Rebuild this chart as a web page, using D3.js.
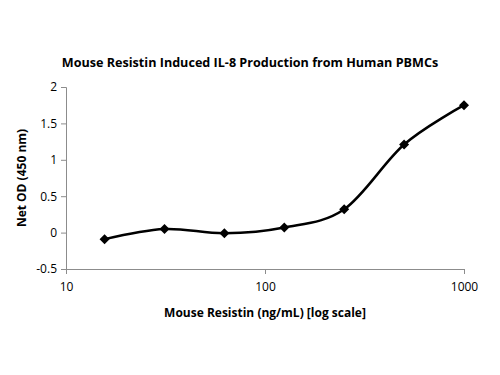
<!DOCTYPE html>
<html>
<head>
<meta charset="utf-8">
<script src="https://cdn.jsdelivr.net/npm/d3@7"></script>
<style>
  body { margin: 0; background: #fff; }
  text { font-family: "Open Sans", "Liberation Sans", sans-serif; fill: #000; }
</style>
</head>
<body>
<div id="chart"></div>
<script>
var concentrations = [15.625, 31.25, 62.5, 125, 250, 500, 1000]
var netOD = [-0.09, 0.05, -0.01, 0.07, 0.32, 1.21, 1.75]
var xTicks = [10, 100, 1000]
var yTicks = [-0.5, 0, 0.5, 1, 1.5, 2]

var margin = {top: 87, right: 36, bottom: 106, left: 66}
var width = 500 - margin.left - margin.right,
    height = 375 - margin.top - margin.bottom

var svg = d3.select('#chart').append('svg')
  .attr('width', 500)
  .attr('height', 375)

var g = svg.append('g')
  .attr('transform', 'translate(' + margin.left + ',' + margin.top + ')')

var x = d3.scaleLog().domain([10, 1000]).range([0, width])
var y = d3.scaleLinear().domain([-0.5, 2]).range([height, 0])

// axes
var yAxis = d3.axisLeft(y).tickValues(yTicks).tickSize(5).tickPadding(4)
  .tickFormat(function (d) { return String(d) })
var ya = g.append('g').call(yAxis)
ya.selectAll('text').style('font-size', '12px')

var xAxis = d3.axisBottom(x).tickValues(xTicks).tickSize(5).tickPadding(8)
  .tickFormat(d3.format('d'))
var xa = g.append('g').attr('transform', 'translate(0,' + height + ')').call(xAxis)
xa.selectAll('text').style('font-size', '12px')

svg.selectAll('.domain, .tick line').attr('stroke', '#8c8c8c')

// curve
var pts = concentrations.map(function (c, i) { return [c, netOD[i]] })
var line = d3.line()
  .x(function (d) { return x(d[0]) })
  .y(function (d) { return y(d[1]) })
  .curve(d3.curveCardinal.tension(0))

g.append('path')
  .datum(pts)
  .attr('d', line)
  .attr('fill', 'none')
  .attr('stroke', '#000')
  .attr('stroke-width', 2.5)

g.selectAll('.marker')
  .data(pts)
  .enter().append('path')
  .attr('class', 'marker')
  .attr('d', d3.symbol().type(d3.symbolSquare).size(50))
  .attr('transform', function (d) { return 'translate(' + x(d[0]) + ',' + y(d[1]) + ') rotate(45)' })
  .attr('fill', '#000')

// titles
svg.append('text')
  .attr('x', 250).attr('y', 67)
  .attr('text-anchor', 'middle')
  .style('font-size', '12.6px').style('font-weight', 'bold')
  .text('Mouse Resistin Induced IL-8 Production from Human PBMCs')

svg.append('text')
  .attr('x', margin.left + width / 2).attr('y', 317)
  .attr('text-anchor', 'middle')
  .style('font-size', '12px').style('font-weight', 'bold')
  .text('Mouse Resistin (ng/mL) [log scale]')

svg.append('text')
  .attr('transform', 'translate(26,' + (margin.top + height / 2) + ') rotate(-90)')
  .attr('text-anchor', 'middle')
  .style('font-size', '12px').style('font-weight', 'bold')
  .text('Net OD (450 nm)')
</script>
</body>
</html>
